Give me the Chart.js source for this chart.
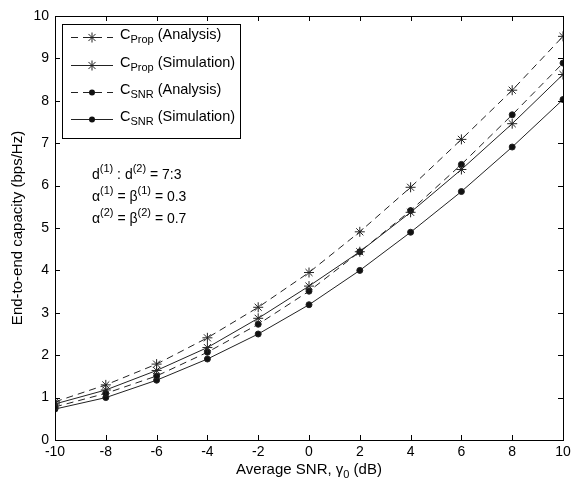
<!DOCTYPE html>
<html>
<head>
<meta charset="utf-8">
<script src="https://cdn.jsdelivr.net/npm/chart.js@4/dist/chart.umd.min.js"></script>
<style>
  body { margin: 0; background: #fff; }
  #wrap { width: 573px; height: 485px; }
</style>
</head>
<body>
<div id="wrap"><canvas id="capacityChart"></canvas></div>
<script>
// --- data ---
const snrDb = [-10, -8, -6, -4, -2, 0, 2, 4, 6, 8, 10];
const propAnalysis   = [0.90, 1.30, 1.79, 2.41, 3.13, 3.95, 4.91, 5.96, 7.09, 8.25, 9.52];
const propSimulation = [0.85, 1.18, 1.64, 2.18, 2.87, 3.63, 4.44, 5.37, 6.38, 7.46, 8.62];
const snrAnalysis    = [0.78, 1.10, 1.51, 2.07, 2.73, 3.51, 4.44, 5.41, 6.50, 7.67, 8.89];
const snrSimulation  = [0.73, 1.00, 1.41, 1.91, 2.50, 3.19, 4.00, 4.90, 5.86, 6.91, 8.03];
const xTicks = [-10, -8, -6, -4, -2, 0, 2, 4, 6, 8, 10];
const yTicks = [0, 1, 2, 3, 4, 5, 6, 7, 8, 9, 10];

const FONT = "'Liberation Sans', Arial, sans-serif";
const toPoints = (vals) => vals.map((v, i) => ({ x: snrDb[i], y: v }));

const seriesStyle = [
  { label: ["C", "Prop", " (Analysis)"],   data: propAnalysis,   dash: [7, 5], marker: "star" },
  { label: ["C", "Prop", " (Simulation)"], data: propSimulation, dash: [],     marker: "star" },
  { label: ["C", "SNR", " (Analysis)"],    data: snrAnalysis,    dash: [7, 5], marker: "circle" },
  { label: ["C", "SNR", " (Simulation)"],  data: snrSimulation,  dash: [],     marker: "circle" },
];

// draw text made of [text, mode] pieces, mode: null | "sub" | "sup"
function drawRich(ctx, parts, x, y, size) {
  let cx = x;
  parts.forEach(([t, mode]) => {
    const s = mode ? Math.round(size * 0.75) : size;
    const dy = mode === "sub" ? size * 0.32 : mode === "sup" ? -size * 0.4 : 0;
    ctx.font = s + "px " + FONT;
    ctx.fillText(t, cx, y + dy);
    cx += ctx.measureText(t).width;
  });
  return cx - x;
}

function drawMarker(ctx, style, x, y) {
  if (style === "star") {
    Chart.helpers.drawPoint(ctx, { pointStyle: "star", radius: 5, rotation: 0, borderWidth: 1 }, x, y);
  } else {
    ctx.beginPath();
    ctx.arc(x, y, 3, 0, Math.PI * 2);
    ctx.fill();
  }
}

const decorPlugin = {
  id: "decor",
  afterDraw(chart) {
    const ctx = chart.ctx;
    const a = chart.chartArea;
    const xs = chart.scales.x, ys = chart.scales.y;
    ctx.save();
    ctx.strokeStyle = "#000";
    ctx.fillStyle = "#000";
    ctx.lineWidth = 1;
    ctx.setLineDash([]);

    // axes box
    ctx.strokeRect(a.left + 0.5, a.top + 0.5, a.right - a.left, a.bottom - a.top);

    // inward ticks on all four sides
    const tl = 5;
    ctx.beginPath();
    xTicks.forEach((v) => {
      const px = Math.round(xs.getPixelForValue(v)) + 0.5;
      ctx.moveTo(px, a.bottom); ctx.lineTo(px, a.bottom - tl);
      ctx.moveTo(px, a.top); ctx.lineTo(px, a.top + tl);
    });
    yTicks.forEach((v) => {
      const py = Math.round(ys.getPixelForValue(v)) + 0.5;
      ctx.moveTo(a.left, py); ctx.lineTo(a.left + tl, py);
      ctx.moveTo(a.right, py); ctx.lineTo(a.right - tl, py);
    });
    ctx.stroke();

    // axis titles
    ctx.textBaseline = "middle";
    ctx.textAlign = "left";
    const xt = [["Average SNR, \u03b3", null], ["0", "sub"], [" (dB)", null]];
    let w = 0;
    xt.forEach(([t, m]) => { ctx.font = (m ? 11 : 15) + "px " + FONT; w += ctx.measureText(t).width; });
    drawRich(ctx, xt, (a.left + a.right) / 2 - w / 2, 470, 15);

    ctx.save();
    ctx.translate(18, (a.top + a.bottom) / 2);
    ctx.rotate(-Math.PI / 2);
    ctx.textAlign = "center";
    ctx.font = "15px " + FONT;
    ctx.fillText("End-to-end capacity (bps/Hz)", 0, 0);
    ctx.restore();

    // legend box
    const lx = 62, ly = 24, lw = 178, lh = 114;
    ctx.fillStyle = "#fff";
    ctx.fillRect(lx, ly, lw, lh);
    ctx.strokeStyle = "#000";
    ctx.strokeRect(lx + 0.5, ly + 0.5, lw, lh);
    const rowY = [37, 65, 92, 119];
    seriesStyle.forEach((s, i) => {
      const y = rowY[i];
      ctx.strokeStyle = "#222";
      ctx.fillStyle = "#111";
      ctx.setLineDash(s.dash);
      ctx.beginPath();
      ctx.moveTo(71, y + 0.5); ctx.lineTo(113, y + 0.5);
      ctx.stroke();
      ctx.setLineDash([]);
      drawMarker(ctx, s.marker, 92, y + 0.5);
      ctx.fillStyle = "#000";
      drawRich(ctx, [[s.label[0], null], [s.label[1], "sub"], [s.label[2], null]], 120, y - 2, 14.5);
    });

    // parameter annotation
    ctx.fillStyle = "#000";
    drawRich(ctx, [["d", null], ["(1)", "sup"], [" : d", null], ["(2)", "sup"], [" = 7:3", null]], 92, 175, 14);
    drawRich(ctx, [["\u03b1", null], ["(1)", "sup"], [" = \u03b2", null], ["(1)", "sup"], [" = 0.3", null]], 92, 197, 14);
    drawRich(ctx, [["\u03b1", null], ["(2)", "sup"], [" = \u03b2", null], ["(2)", "sup"], [" = 0.7", null]], 92, 219, 14);

    ctx.restore();
  },
};

new Chart(document.getElementById("capacityChart"), {
  type: "line",
  data: {
    datasets: seriesStyle.map((s) => ({
      data: toPoints(s.data),
      borderColor: "#222",
      borderWidth: 1,
      borderDash: s.dash,
      pointStyle: s.marker,
      pointRadius: s.marker === "star" ? 5 : 3,
      pointBorderWidth: 1,
      pointBorderColor: "#222",
      pointBackgroundColor: "#111",
      tension: 0,
      fill: false,
    })),
  },
  options: {
    responsive: true,
    maintainAspectRatio: false,
    animation: false,
    layout: { padding: { top: 16, right: 10, left: 0, bottom: 0 } },
    plugins: { legend: { display: false }, tooltip: { enabled: false } },
    scales: {
      x: {
        type: "linear",
        min: -10,
        max: 10,
        afterBuildTicks: (scale) => { scale.ticks = xTicks.map((v) => ({ value: v })); },
        afterFit: (scale) => {
          scale.height = 45;
          scale.paddingLeft = 0;
          scale.paddingRight = 0;
        },
        grid: { display: false, drawTicks: false, tickLength: 0 },
        border: { display: false },
        ticks: { color: "#000", padding: 4, font: { family: FONT, size: 14 }, maxRotation: 0 },
      },
      y: {
        min: 0,
        max: 10,
        afterBuildTicks: (scale) => { scale.ticks = yTicks.map((v) => ({ value: v })); },
        afterFit: (scale) => { scale.width = 55; },
        grid: { display: false, drawTicks: false, tickLength: 0 },
        border: { display: false },
        ticks: { color: "#000", padding: 6, font: { family: FONT, size: 14 } },
      },
    },
  },
  plugins: [decorPlugin],
});
</script>
</body>
</html>
